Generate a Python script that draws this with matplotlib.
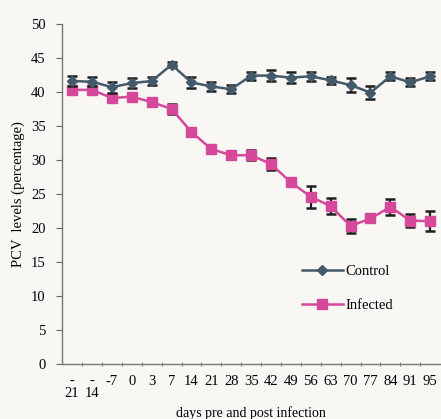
import numpy as np
import matplotlib
matplotlib.use("Agg")
import matplotlib.pyplot as plt

days = ["-\n21", "-\n14", "-7", "0", "3", "7", "14", "21", "28", "35",
        "42", "49", "56", "63", "70", "77", "84", "91", "95"]
control = [41.6, 41.5, 40.7, 41.3, 41.6, 44.0, 41.4, 40.8, 40.4, 42.4,
           42.4, 42.1, 42.3, 41.7, 41.0, 39.9, 42.3, 41.4, 42.3]
control_err = [0.7, 0.7, 0.8, 0.7, 0.6, 0.4, 0.8, 0.7, 0.6, 0.6,
               0.8, 0.8, 0.7, 0.5, 1.0, 1.0, 0.6, 0.6, 0.6]
infected = [40.3, 40.3, 39.1, 39.3, 38.5, 37.5, 34.1, 31.6, 30.7, 30.7,
            29.4, 26.7, 24.6, 23.2, 20.3, 21.4, 23.1, 21.1, 21.0]
infected_err = [0.4, 0.4, 0.4, 0.4, 0.4, 0.7, 0.4, 0.4, 0.4, 0.7,
                0.9, 0.4, 1.6, 1.2, 1.0, 0.4, 1.2, 1.0, 1.5]

plt.rcParams["font.family"] = ["Liberation Serif", "DejaVu Serif"]
bg = "#f8f7f4"

fig = plt.figure(figsize=(4.41, 4.19), dpi=100, facecolor=bg)
ax = fig.add_axes([0.141, 0.131, 0.857, 0.812], facecolor=bg)

x = np.arange(len(days))
ax.errorbar(x, control, yerr=control_err, color="#435a6b", lw=1.8,
            marker="D", ms=5.5, ecolor="#1e1e1e", elinewidth=1.6,
            capsize=3.5, capthick=1.8, label="Control", zorder=3)
ax.errorbar(x, infected, yerr=infected_err, color="#d6489a", lw=1.8,
            marker="s", ms=7.5, ecolor="#1e1e1e", elinewidth=1.6,
            capsize=3.5, capthick=1.8, label="Infected", zorder=2)

ax.set_xlim(-0.5, len(days) - 0.5)
ax.set_ylim(0, 50)
ax.set_yticks(range(0, 51, 5))
ax.set_xticks(x)
ax.set_xticklabels(days, fontsize=10.5, va="top", linespacing=0.9)
ax.set_xticks(np.arange(0.5, len(days) - 0.5), minor=True)
ax.tick_params(axis="x", which="major", length=0, pad=8)
ax.tick_params(axis="x", which="minor", length=3, direction="inout",
               color="#666666")
ax.tick_params(axis="y", length=4, color="#666666", labelsize=10.5, pad=8)

for s in ["top", "right"]:
    ax.spines[s].set_visible(False)
for s in ["left", "bottom"]:
    ax.spines[s].set_color("#777777")
    ax.spines[s].set_linewidth(1.0)

ax.set_ylabel("PCV  levels (percentage)", fontsize=10.5, labelpad=4)
ax.set_xlabel("days pre and post infection", fontsize=10, labelpad=4)

handles, labels = ax.get_legend_handles_labels()
handles = [h[0] for h in handles]
ax.legend(handles, labels, loc="upper left", bbox_to_anchor=(0.6, 0.33),
          frameon=False, fontsize=10.5, handlelength=2.8, labelspacing=1.4,
          handletextpad=0.2)

fig.savefig("out.png", dpi=100, facecolor=bg)
